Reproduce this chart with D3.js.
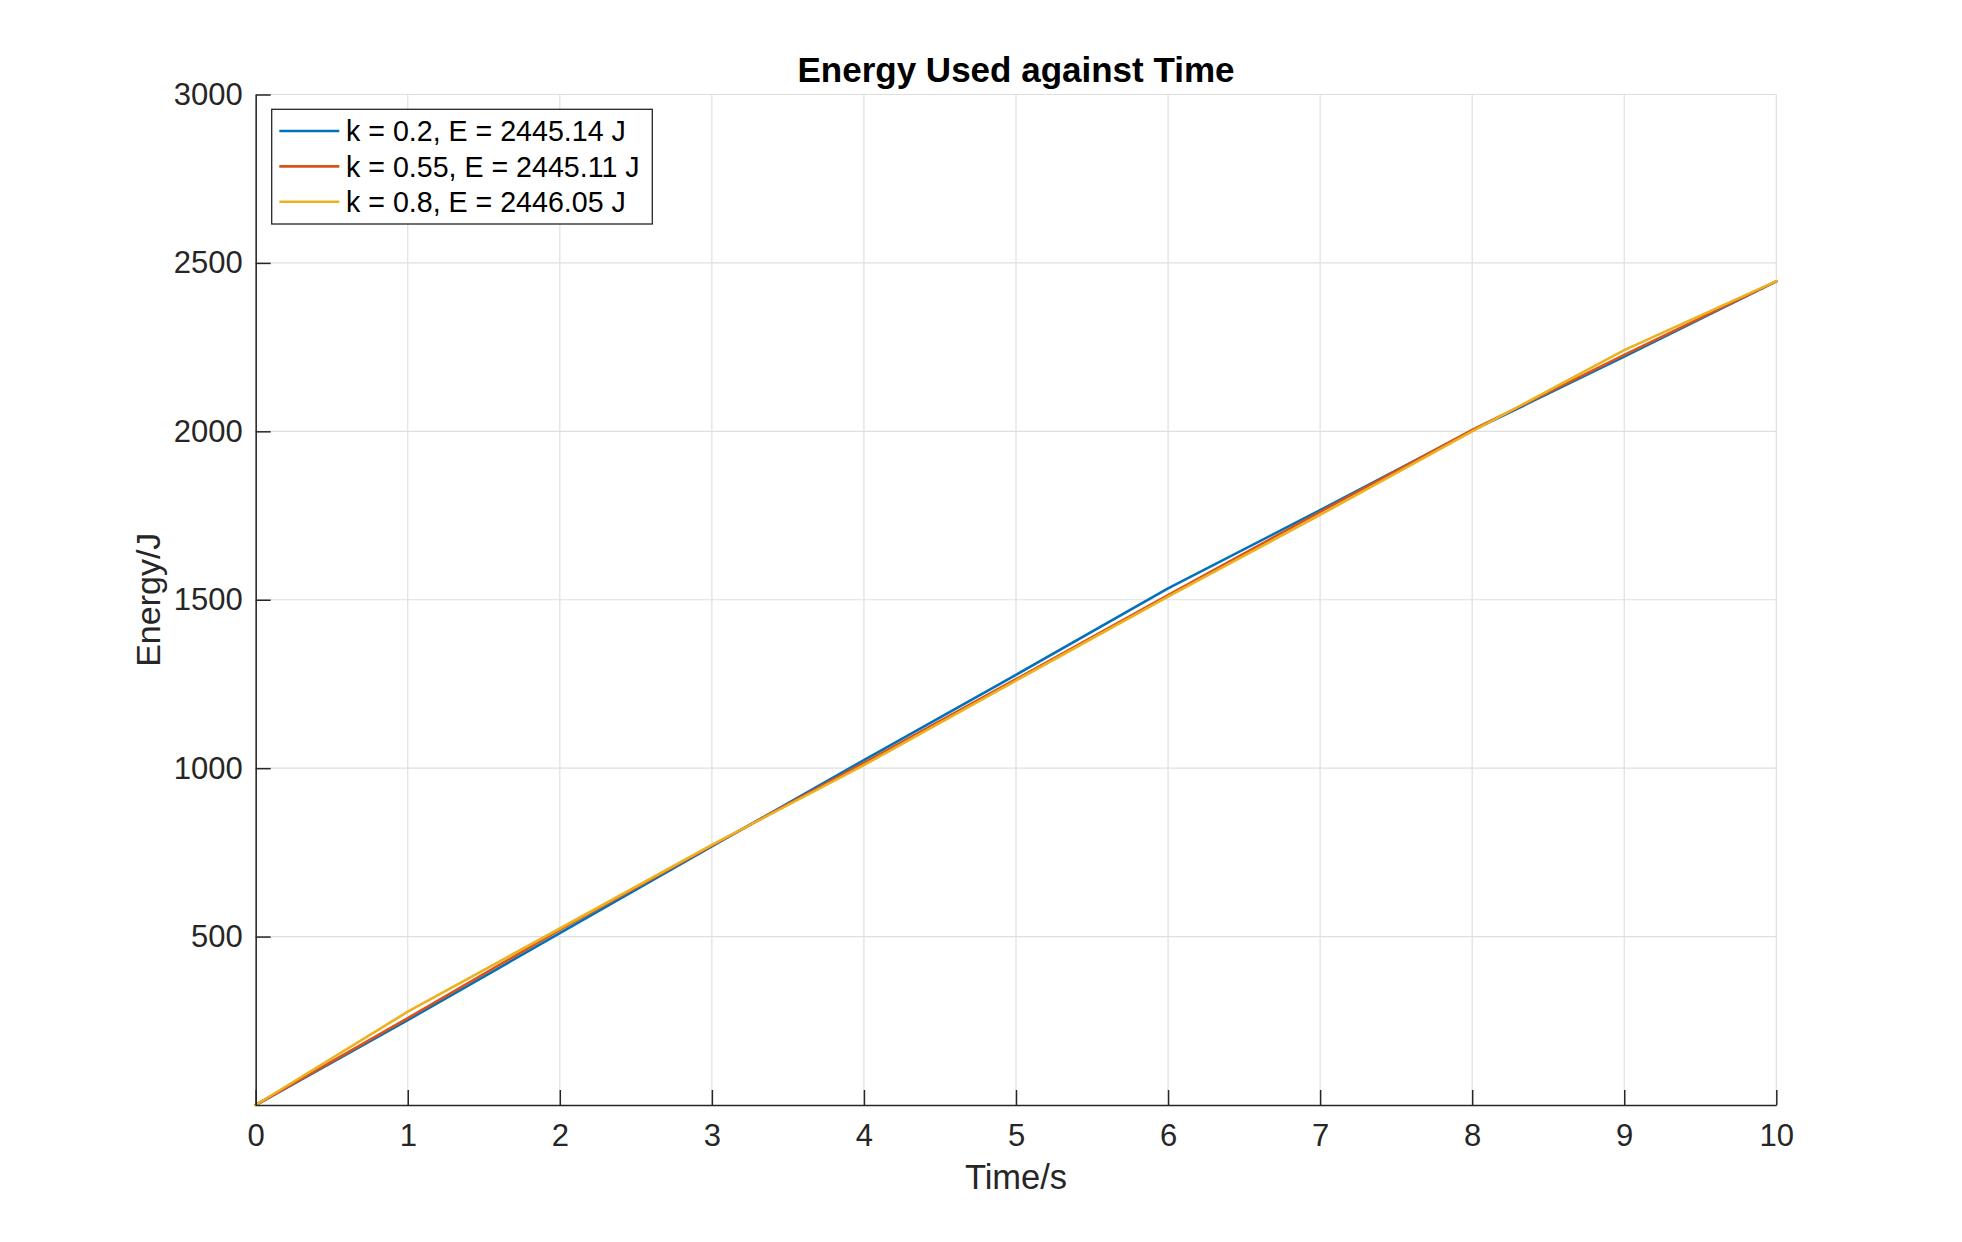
<!DOCTYPE html>
<html>
<head>
<meta charset="utf-8">
<script src="https://cdn.jsdelivr.net/npm/d3@7"></script>
<style>
    body { margin: 0; background: #fff; }
    text { font-family: "Liberation Sans", Arial, Helvetica, sans-serif; }
</style>
</head>
<body>
<div id="chart"></div>
<script>
const time = [0, 1, 2, 3, 4, 5, 6, 7, 8, 9, 10];
const energyK02 = [0, 252, 510, 768, 1024, 1277, 1534, 1766, 2002, 2222, 2445.14];
const energyK055 = [0, 258, 520, 770, 1016, 1264, 1514, 1761, 2004, 2227, 2445.11];
const energyK08 = [0, 277, 524, 772, 1009, 1260, 1509, 1752, 2000, 2241, 2446.05];

const seriesNames = ["k = 0.2, E = 2445.14 J", "k = 0.55, E = 2445.11 J", "k = 0.8, E = 2446.05 J"];
const seriesColors = ["#0072BD", "#D95319", "#EDB120"];

const xTicks = [0, 1, 2, 3, 4, 5, 6, 7, 8, 9, 10];
const yTicks = [500, 1000, 1500, 2000, 2500, 3000];

const titleText = "Energy Used against Time";
const xLabel = "Time/s";
const yLabel = "Energy/J";

drawChart = function() {
    const width = 1962, height = 1242;
    const plot = { left: 255.7, right: 1776.3, top: 94.5, bottom: 1105 };
    const axisColor = "#262626";
    const gridColor = "#dfdfdf";

    const svg = d3.create("svg")
          .attr("width", width)
          .attr("height", height)
          .attr("viewBox", [0, 0, width, height])
          .style("background", "#fff");

    const x = d3.scaleLinear()
          .domain([0, 10])
          .range([plot.left, plot.right]);

    const y = d3.scaleLinear()
          .domain([0, 3000])
          .range([plot.bottom, plot.top]);

    // grid line
    const grid = svg.append("g")
          .attr("stroke", gridColor)
          .attr("stroke-width", 1.2);

    grid.selectAll(".gx")
        .data(xTicks)
        .enter().append("line")
        .attr("x1", d => x(d))
        .attr("x2", d => x(d))
        .attr("y1", plot.top)
        .attr("y2", plot.bottom);

    grid.selectAll(".gy")
        .data(yTicks)
        .enter().append("line")
        .attr("x1", plot.left)
        .attr("x2", plot.right)
        .attr("y1", d => y(d))
        .attr("y2", d => y(d));

    // series
    const series = [energyK02, energyK055, energyK08].map((values, i) => ({
        name: seriesNames[i],
        color: seriesColors[i],
        points: time.map((t, j) => [t, values[j]])
    }));

    const line = d3.line()
          .x(d => x(d[0]))
          .y(d => y(d[1]));

    svg.append("g")
        .attr("fill", "none")
        .attr("stroke-width", 2.6)
        .attr("stroke-linejoin", "round")
        .attr("stroke-linecap", "round")
        .selectAll("path")
        .data(series)
        .enter().append("path")
        .attr("stroke", d => d.color)
        .attr("d", d => line(d.points));

    // axes
    const xAxis = svg.append("g")
          .attr("transform", `translate(0, ${plot.bottom})`)
          .call(d3.axisBottom(x)
                .tickValues(xTicks)
                .tickFormat(d3.format("d"))
                .tickSizeInner(-15)
                .tickSizeOuter(0)
                .tickPadding(19));

    const yAxis = svg.append("g")
          .attr("transform", `translate(${plot.left}, 0)`)
          .call(d3.axisLeft(y)
                .tickValues(yTicks)
                .tickFormat(d3.format("d"))
                .tickSizeInner(-15)
                .tickSizeOuter(0)
                .tickPadding(13));

    [xAxis, yAxis].forEach(a => {
        a.select(".domain").attr("stroke", axisColor).attr("stroke-width", 1.5);
        a.selectAll(".tick line").attr("stroke", axisColor).attr("stroke-width", 1.5);
        a.selectAll(".tick text")
            .attr("fill", axisColor)
            .style("font-family", "'Liberation Sans', Arial, sans-serif")
            .style("font-size", "31px");
    });

    // labels
    svg.append("text")
        .attr("x", (plot.left + plot.right) / 2)
        .attr("y", 81.7)
        .attr("text-anchor", "middle")
        .attr("fill", "#000")
        .style("font-size", "35px")
        .style("font-weight", "bold")
        .text(titleText);

    svg.append("text")
        .attr("x", (plot.left + plot.right) / 2)
        .attr("y", 1189.3)
        .attr("text-anchor", "middle")
        .attr("fill", axisColor)
        .style("font-size", "34.5px")
        .text(xLabel);

    svg.append("text")
        .attr("transform", `translate(160, ${(plot.top + plot.bottom) / 2}) rotate(-90)`)
        .attr("text-anchor", "middle")
        .attr("fill", axisColor)
        .style("font-size", "34px")
        .text(yLabel);

    // legend
    const legend = svg.append("g")
          .attr("class", "legend");

    legend.append("rect")
        .attr("x", 271.7)
        .attr("y", 109.3)
        .attr("width", 380.6)
        .attr("height", 114.7)
        .attr("fill", "#fff")
        .attr("stroke", axisColor)
        .attr("stroke-width", 1.3);

    const rows = legend.selectAll(".row")
          .data(series)
          .enter().append("g")
          .attr("class", "row")
          .attr("transform", (d, i) => `translate(0, ${131 + i * 35.4})`);

    rows.append("line")
        .attr("x1", 279.3)
        .attr("x2", 339.3)
        .attr("stroke", d => d.color)
        .attr("stroke-width", 2.6);

    rows.append("text")
        .attr("x", 346)
        .attr("dy", "0.36em")
        .attr("fill", "#000")
        .style("font-size", "28.6px")
        .text(d => d.name);

    return svg.node();
}

d3.select("#chart").append(() => drawChart());
</script>
</body>
</html>
